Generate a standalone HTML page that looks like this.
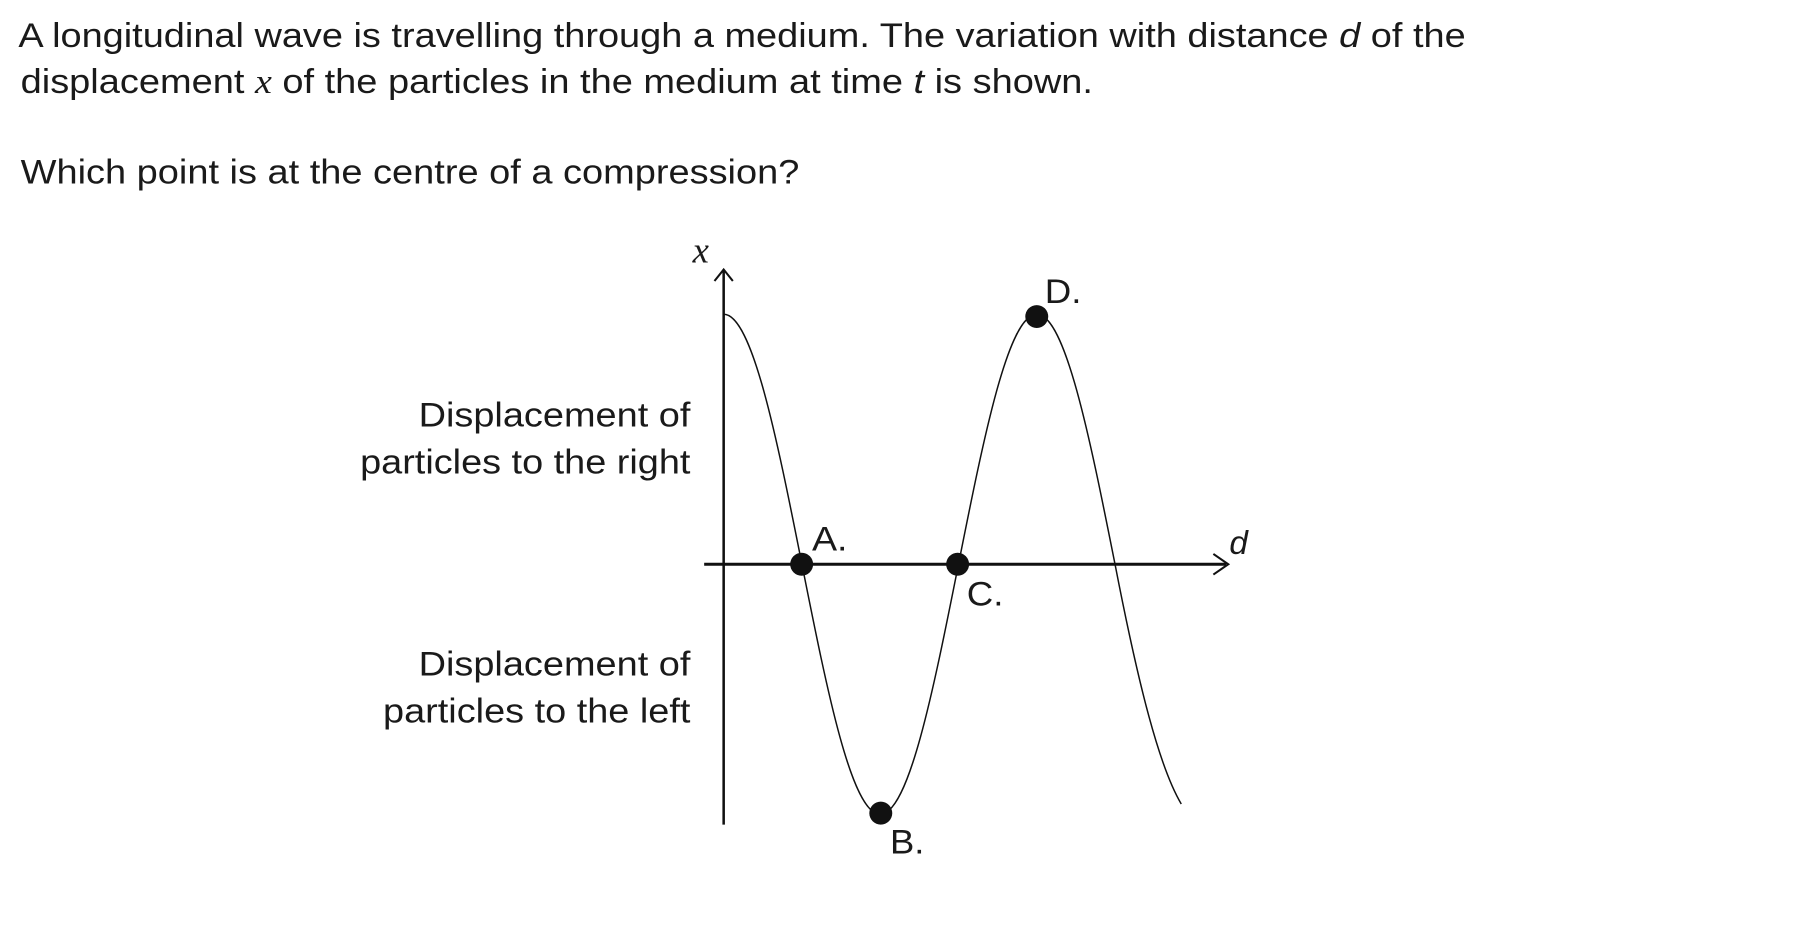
<!DOCTYPE html>
<html><head><meta charset="utf-8"><style>
html,body{margin:0;padding:0;background:#fff;width:1804px;height:948px;overflow:hidden}
svg{display:block}
text{font-family:"Liberation Sans",Arial,sans-serif;fill:#1a1a1a}
</style></head><body>
<svg width="1804" height="948" viewBox="0 0 1573 826.6" preserveAspectRatio="none" xmlns="http://www.w3.org/2000/svg">
<g font-size="30">
<text x="16" y="41" textLength="1262" lengthAdjust="spacingAndGlyphs">A longitudinal wave is travelling through a medium. The variation with distance <tspan font-style="italic">d</tspan> of the</text>
<text x="18" y="81" textLength="935" lengthAdjust="spacingAndGlyphs">displacement <tspan style="font-family:'Liberation Serif',serif" font-style="italic">x</tspan> of the particles in the medium at time <tspan font-style="italic">t</tspan> is shown.</text>
<text x="18" y="160" textLength="679" lengthAdjust="spacingAndGlyphs">Which point is at the centre of a compression?</text>
</g>
<g transform="translate(3,1)">
<g font-size="30">
<text x="362" y="371" textLength="237" lengthAdjust="spacingAndGlyphs">Displacement of</text>
<text x="311" y="412" textLength="288" lengthAdjust="spacingAndGlyphs">particles to the right</text>
<text x="362" y="588" textLength="237" lengthAdjust="spacingAndGlyphs">Displacement of</text>
<text x="331" y="629" textLength="268" lengthAdjust="spacingAndGlyphs">particles to the left</text>
</g>
<text x="601" y="228" font-size="32" style="font-family:'Liberation Serif',serif" font-style="italic">x</text>
<text x="1069" y="482" font-size="29" font-style="italic">d</text>
<line x1="628" y1="234" x2="628" y2="718" stroke="#111" stroke-width="2.2"/>
<polyline points="620,244 628,234 636,244" fill="none" stroke="#111" stroke-width="1.8"/>
<line x1="611" y1="491" x2="1066" y2="491" stroke="#111" stroke-width="2.6"/>
<polyline points="1055,482 1068,491 1055,500" fill="none" stroke="#111" stroke-width="1.8"/>
<path d="M628,273 C652.7,273 674,379.3 696.25,491 C718.5,602.7 739.8,709 764.5,709 C789.2,709 810.5,602.7 832.75,491 C855,379.3 876.3,273 901,273 C925.7,273 947,379.3 969.25,491 C990,598 1008,668 1027,700" fill="none" stroke="#111" stroke-width="1.3"/>
<g fill="#111">
<circle cx="696" cy="491" r="10"/>
<circle cx="832" cy="491" r="10"/>
<circle cx="765" cy="708" r="10"/>
<circle cx="901" cy="275" r="10"/>
</g>
<g font-size="30">
<text x="705" y="479" textLength="31" lengthAdjust="spacingAndGlyphs">A.</text>
<text x="840" y="527" textLength="32" lengthAdjust="spacingAndGlyphs">C.</text>
<text x="908" y="263" textLength="32" lengthAdjust="spacingAndGlyphs">D.</text>
<text x="773" y="743" textLength="30" lengthAdjust="spacingAndGlyphs">B.</text>
</g>
</g>
</svg>
</body></html>
